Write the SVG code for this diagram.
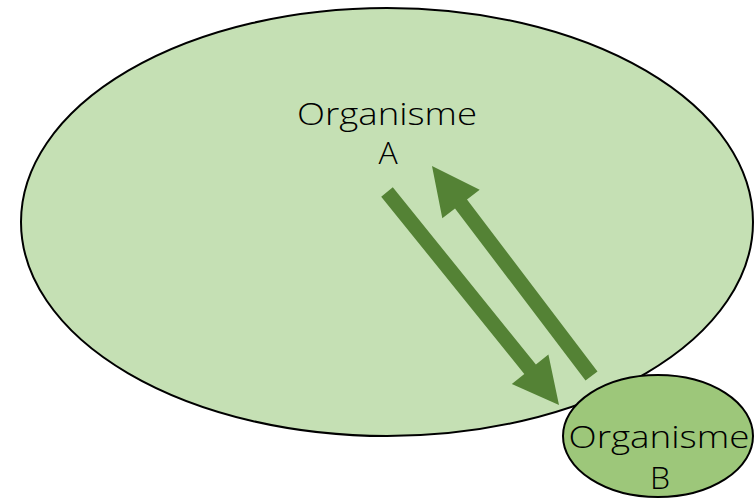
<svg xmlns="http://www.w3.org/2000/svg" width="754" height="498" viewBox="0 0 754 498">
<style>
.lbl{font-family:"Open Sans","Liberation Sans",sans-serif;font-weight:300;font-size:32px;fill:#000;text-anchor:middle}
.arrow{fill:#548235;stroke:none}
</style>
<rect width="754" height="498" fill="#fff"/>
<g id="organisme-a">
<ellipse cx="387" cy="222" rx="366" ry="214" fill="#C5E0B4" stroke="#000" stroke-width="2"/>
<text class="lbl" x="387" y="125" textLength="180" lengthAdjust="spacingAndGlyphs">Organisme</text>
<text class="lbl" x="388" y="164">A</text>
</g>
<g id="connectors">
<polygon class="arrow" points="392.8,187.3 535.9,364.5 548.4,354.4 559,405 511.8,383.9 524.3,373.9 381.2,196.7"/>
<polygon class="arrow" points="597.5,371.5 467,199.5 479.7,189.8 432,166 442.3,218.2 455,208.5 585.5,380.5"/>
</g>
<g id="organisme-b">
<ellipse cx="658" cy="436" rx="95" ry="61" fill="#9DC77A" stroke="#000" stroke-width="2"/>
<text class="lbl" x="659" y="448" textLength="181" lengthAdjust="spacingAndGlyphs">Organisme</text>
<text class="lbl" x="660" y="489">B</text>
</g>
</svg>
